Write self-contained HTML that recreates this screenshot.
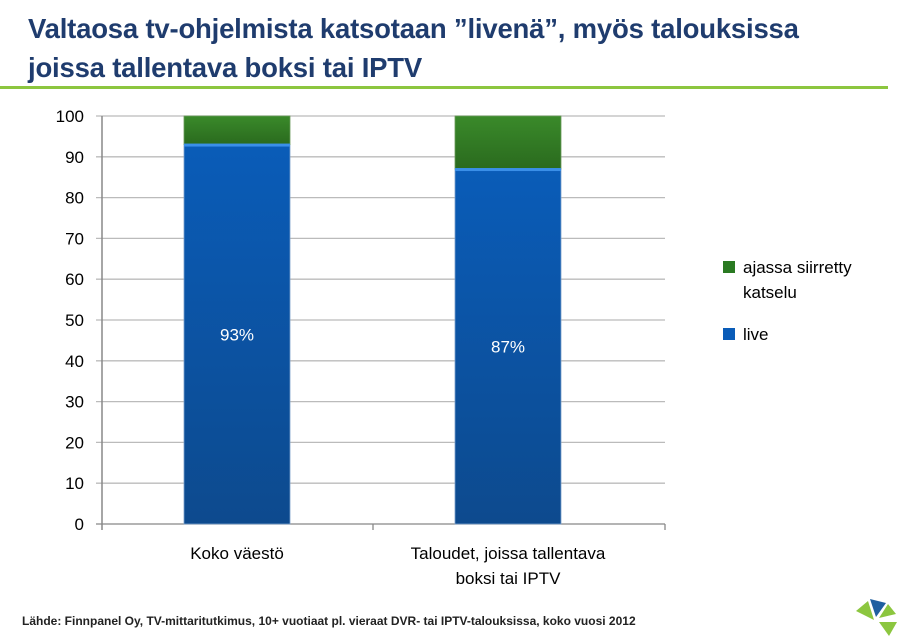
<!DOCTYPE html>
<html><head><meta charset="utf-8"><style>
body{margin:0;width:902px;height:638px;background:#fff;font-family:"Liberation Sans",sans-serif;overflow:hidden;position:relative}
.t{position:absolute;left:28px;color:#1f3c6e;font-weight:bold;font-size:27.5px;letter-spacing:-0.2px}
</style></head><body>
<div class="t" style="top:13px">Valtaosa tv-ohjelmista katsotaan ”livenä”, myös talouksissa</div>
<div class="t" style="top:52px">joissa tallentava boksi tai IPTV</div>
<div style="position:absolute;left:0;top:86px;width:888px;height:3px;background:#8cc63f"></div>
<svg id="c" width="902" height="638" style="position:absolute;left:0;top:0">
<defs>
<linearGradient id="gb" x1="0" y1="0" x2="0" y2="1"><stop offset="0" stop-color="#0a5cb8"/><stop offset="1" stop-color="#0d4a8e"/></linearGradient>
<linearGradient id="gg" x1="0" y1="0" x2="0" y2="1"><stop offset="0" stop-color="#3a8a2a"/><stop offset="1" stop-color="#2a6a1e"/></linearGradient>
</defs>
<g id="g"></g>
<text x="22" y="625" font-size="12" font-weight="bold" fill="#222">Lähde: Finnpanel Oy, TV-mittaritutkimus, 10+ vuotiaat pl. vieraat DVR- tai IPTV-talouksissa, koko vuosi 2012</text>
<g>
<polygon points="874,620 856,611 868,601" fill="#8cc63f"/>
<polygon points="876,617 870,599 886,603" fill="#1f5fa0"/>
<polygon points="879,618 888,604 896,614" fill="#8cc63f"/>
<polygon points="879,622 897,622 889,636" fill="#8cc63f"/>
</g>
</svg>
<script>
const categories=[["Koko väestö"],["Taloudet, joissa tallentava","boksi tai IPTV"]];
const liveValues=[93,87];
const shiftedValues=[7,13];
const labels=["93%","87%"];
const ticks=[0,10,20,30,40,50,60,70,80,90,100];
const NS="http://www.w3.org/2000/svg",g=document.getElementById('g');
const y=v=>524-v*4.08, x0=102,x1=665, bw=106, cx=i=>237+i*271;
function el(t,a,txt){const e=document.createElementNS(NS,t);for(const k in a)e.setAttribute(k,a[k]);if(txt!=null)e.textContent=txt;g.appendChild(e);return e;}
ticks.forEach(t=>{
 const l=el('line',{x1:96,x2:x1,y1:y(t),y2:y(t),stroke:t?'#bbb':'#888','stroke-width':1.3});
 
 
 const tx=el('text',{x:84,y:y(t)+6,'text-anchor':'end','font-size':17,fill:'#000'},t);
 
 
});
const ax=el('line',{x1:x0,x2:x0,y1:y(100),y2:y(0)+6,stroke:'#888','stroke-width':1.5});


[373,665].forEach(px=>{const t=el('line',{x1:px,x2:px,y1:524,y2:530,stroke:'#888','stroke-width':1.3});
 
 });
categories.forEach((c,i)=>{
 const L=cx(i)-bw/2;
 const b=el('rect',{x:L,y:y(liveValues[i]),width:bw,height:y(0)-y(liveValues[i]),fill:'url(#gb)',stroke:'#7aa0cc','stroke-width':0.8});
 
 
 const s=el('rect',{x:L,y:y(liveValues[i]+shiftedValues[i]),width:bw,height:y(liveValues[i])-y(liveValues[i]+shiftedValues[i]),fill:'url(#gg)',stroke:'#6a9a5a','stroke-width':0.8});
 
 
 el('rect',{x:L,y:y(liveValues[i])-1,width:bw,height:3,fill:'#3a8fe8'});
 const lb=el('text',{x:cx(i),y:y(liveValues[i]/2)+6,'text-anchor':'middle','font-size':17,fill:'#fff'},labels[i]);
 
 
 c.forEach((ln,j)=>{const t=el('text',{x:cx(i),y:559+j*25,'text-anchor':'middle','font-size':17,fill:'#000'},ln);
  
  });
});
const lg=[["#2a7a22",262,["ajassa siirretty","katselu"]],["#0a5cb8",329,["live"]]];
lg.forEach((d,i)=>{
 const r=el('rect',{x:723,y:d[1]-1,width:12,height:12,fill:d[0]});
 
 
 d[2].forEach((s,j)=>{const t=el('text',{x:743,y:d[1]+11+j*25,'font-size':17,fill:'#000'},s);
  
  });
});
</script>
</body></html>
